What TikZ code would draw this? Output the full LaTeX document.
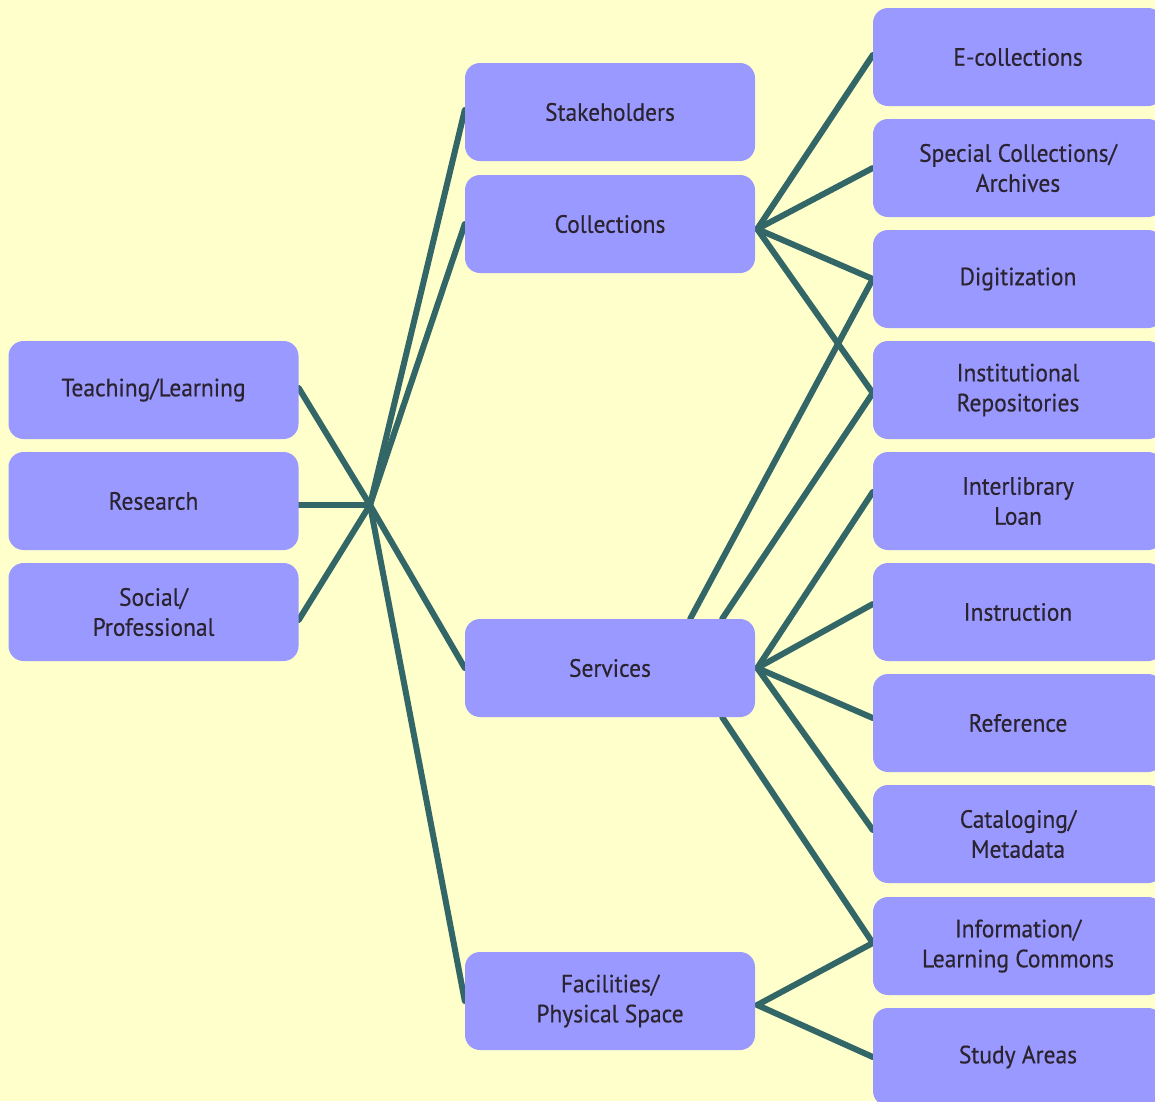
\documentclass[tikz,border=0pt]{standalone}
\usepackage{fontspec}
\setmainfont[FakeStretch=0.94,FakeBold=0.4]{PT Sans}
\usetikzlibrary{backgrounds}
\definecolor{bg}{HTML}{FFFFCC}
\definecolor{boxfill}{HTML}{9999FF}
\definecolor{linkcol}{HTML}{336666}
\definecolor{txt}{HTML}{2B2430}
\begin{document}
\begin{tikzpicture}[x=1pt,y=-1pt,
  box/.style={fill=boxfill,rounded corners=15pt,minimum width=290pt,minimum height=98pt,
    inner sep=0pt,align=center,text=txt,font=\fontsize{25}{30}\selectfont},
  link/.style={draw=linkcol,line width=6pt,line cap=round}]
\useasboundingbox (0,0) rectangle (1155,1101);
% left
\node[box] (teach) at (153.5,390) {Teaching/Learning};
\node[box] (res) at (153.5,501) {Research};
\node[box] (soc) at (153.5,612) {Social/\\Professional};
% middle
\node[box] (stake) at (610,112) {Stakeholders};
\node[box] (coll) at (610,224) {Collections};
\node[box] (serv) at (610,668) {Services};
\node[box] (fac) at (610,1001) {Facilities/\\Physical Space};
% right
\node[box] (ecoll) at (1018,57) {E-collections};
\node[box] (spec) at (1018,168) {Special Collections/\\Archives};
\node[box] (digi) at (1018,279) {Digitization};
\node[box] (inst) at (1018,390) {Institutional\\Repositories};
\node[box] (ill) at (1018,501) {Interlibrary\\Loan};
\node[box] (instr) at (1018,612) {Instruction};
\node[box] (ref) at (1018,723) {Reference};
\node[box] (cat) at (1018,834) {Cataloging/\\Metadata};
\node[box] (info) at (1018,946) {Information/\\Learning Commons};
\node[box] (study) at (1018,1057) {Study Areas};
\coordinate (hub) at (370,505);
\coordinate (ch) at ([xshift=2pt,yshift=-5pt]coll.east);
\coordinate (sh) at ([xshift=2pt]serv.east);
\coordinate (fh) at ([xshift=2pt,yshift=-4pt]fac.east);
\begin{scope}[on background layer]
\fill[bg] (0,0) rectangle (1155,1101);
\draw[link] ([yshift=2pt]teach.east) -- (hub);
\draw[link] ([yshift=-4pt]res.east) -- (hub);
\draw[link] ([yshift=-8pt]soc.east) -- (hub);
\draw[link] (hub) -- ([yshift=2pt]stake.west);
\draw[link] (hub) -- (coll.west);
\draw[link] (hub) -- (serv.west);
\draw[link] (hub) -- (fac.west);
\draw[link] (ch) -- ([yshift=2pt]ecoll.west);
\draw[link] (ch) -- (spec.west);
\draw[link] (ch) -- (digi.west);
\draw[link] (ch) -- ([yshift=-3pt]inst.west);
\draw[link] ([xshift=-65pt]serv.north east) -- (digi.west);
\draw[link] ([xshift=-33pt]serv.north east) -- ([yshift=-3pt]inst.west);
\draw[link] (sh) -- ([yshift=9pt]ill.west);
\draw[link] (sh) -- ([yshift=8pt]instr.west);
\draw[link] (sh) -- ([yshift=5pt]ref.west);
\draw[link] (sh) -- ([yshift=4pt]cat.west);
\draw[link] ([xshift=-33pt]serv.south east) -- ([yshift=3pt]info.west);
\draw[link] (fh) -- ([yshift=3pt]info.west);
\draw[link] (fh) -- (study.west);
\end{scope}
\end{tikzpicture}
\end{document}
